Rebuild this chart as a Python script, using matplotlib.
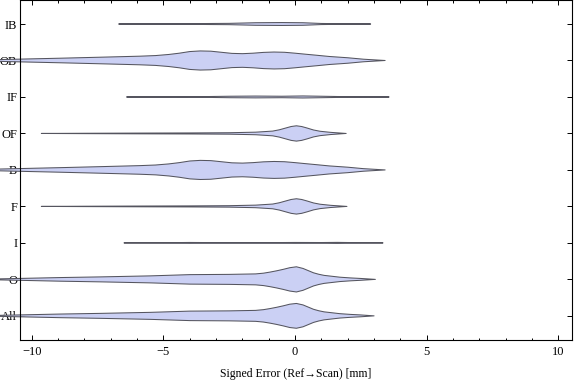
import matplotlib
matplotlib.use("Agg")
import matplotlib.pyplot as plt
from matplotlib.ticker import MultipleLocator
import numpy as np

plt.rcParams['font.family'] = ['Liberation Serif', 'DejaVu Serif']

categories = ["All", "O", "I", "F", "B", "OF", "IF", "OB", "IB"]

# violin profiles: x positions (mm) and half-widths (in category units)
all_x = [-11.5, -10.0, -8.9, -7.4, -5.5, -4.0, -2.5, -1.5, -1.2, -0.95, -0.7, -0.45, -0.2, 0.05, 0.3, 0.5, 0.7, 0.9, 1.1, 1.4, 1.7, 2.1, 2.5, 3.0]
all_h = [0.01, 0.033, 0.05, 0.068, 0.096, 0.13, 0.137, 0.15, 0.17, 0.2, 0.235, 0.275, 0.32, 0.34, 0.3, 0.24, 0.18, 0.14, 0.11, 0.085, 0.06, 0.04, 0.025, 0.0]
o_x = [-11.5, -10.0, -8.9, -7.4, -5.5, -4.0, -2.5, -1.5, -1.2, -0.95, -0.7, -0.45, -0.2, 0.05, 0.3, 0.5, 0.7, 0.9, 1.1, 1.4, 1.7, 2.1, 2.5, 3.05]
o_h = [0.01, 0.033, 0.05, 0.068, 0.096, 0.13, 0.137, 0.15, 0.17, 0.2, 0.235, 0.275, 0.32, 0.345, 0.3, 0.24, 0.18, 0.14, 0.11, 0.085, 0.06, 0.04, 0.025, 0.0]
i_x = [-6.5, -5.0, -4.0, -3.0, -2.0, -1.0, 0.0, 1.0, 1.6, 2.5, 3.34]
i_h = [0.0, 0.006, 0.012, 0.008, 0.01, 0.008, 0.012, 0.01, 0.014, 0.006, 0.0]
f_x = [-9.64, -8.0, -6.0, -4.0, -2.5, -1.5, -0.85, -0.6, -0.35, -0.15, 0.05, 0.25, 0.45, 0.7, 0.95, 1.35, 1.97]
f_h = [0.0, 0.005, 0.01, 0.014, 0.02, 0.035, 0.065, 0.1, 0.15, 0.19, 0.21, 0.19, 0.15, 0.095, 0.06, 0.03, 0.0]
b_x = [-11.5, -10.0, -8.9, -7.4, -5.9, -5.3, -4.8, -4.4, -4.0, -3.6, -3.2, -2.8, -2.4, -2.0, -1.6, -1.2, -0.8, -0.4, 0.0, 0.4, 0.8, 1.3, 2.0, 2.6, 3.42]
b_h = [0.02, 0.045, 0.063, 0.09, 0.118, 0.135, 0.165, 0.2, 0.245, 0.262, 0.255, 0.225, 0.195, 0.187, 0.2, 0.222, 0.232, 0.225, 0.2, 0.172, 0.145, 0.11, 0.075, 0.035, 0.0]
of_x = [-9.64, -8.0, -6.0, -4.0, -2.5, -1.5, -0.85, -0.6, -0.35, -0.15, 0.05, 0.25, 0.45, 0.7, 0.95, 1.35, 1.94]
of_h = [0.0, 0.005, 0.01, 0.014, 0.02, 0.035, 0.065, 0.1, 0.15, 0.19, 0.21, 0.19, 0.15, 0.095, 0.06, 0.03, 0.0]
if_x = [-6.4, -5.0, -3.5, -2.5, -1.5, -0.5, 0.3, 1.0, 2.0, 3.57]
if_h = [0.0, 0.006, 0.01, 0.02, 0.025, 0.02, 0.028, 0.02, 0.008, 0.0]
ob_x = [-11.5, -10.0, -8.9, -7.4, -5.9, -5.3, -4.8, -4.4, -4.0, -3.6, -3.2, -2.8, -2.4, -2.0, -1.6, -1.2, -0.8, -0.4, 0.0, 0.4, 0.8, 1.3, 2.0, 2.6, 3.42]
ob_h = [0.02, 0.045, 0.063, 0.09, 0.118, 0.135, 0.165, 0.2, 0.245, 0.262, 0.255, 0.225, 0.195, 0.187, 0.2, 0.222, 0.232, 0.225, 0.2, 0.172, 0.145, 0.11, 0.075, 0.035, 0.0]
ib_x = [-6.7, -5.0, -4.0, -2.5, -1.5, -0.5, 0.3, 1.0, 2.0, 2.87]
ib_h = [0.0, 0.006, 0.01, 0.018, 0.035, 0.04, 0.035, 0.015, 0.006, 0.0]

profiles = [(all_x, all_h), (o_x, o_h), (i_x, i_h), (f_x, f_h), (b_x, b_h),
            (of_x, of_h), (if_x, if_h), (ob_x, ob_h), (ib_x, ib_h)]

fill_color = "#CBD0F4"
edge_color = "#55555f"

fig = plt.figure(figsize=(5.76, 3.81), dpi=100)
ax = fig.add_axes([20 / 576, (381 - 340.3) / 381, (571.5 - 20) / 576, 340.0 / 381])

for pos, (xs, hs) in enumerate(profiles):
    xs = np.asarray(xs, float)
    hs = np.asarray(hs, float)
    px = np.concatenate([xs, xs[::-1]])
    py = np.concatenate([pos + hs, (pos - hs)[::-1]])
    ax.fill(px, py, facecolor=fill_color, edgecolor=edge_color, linewidth=0.75,
            joinstyle='round', clip_on=False, zorder=2)

ax.set_xlim(-10.45, 10.5)
ax.set_ylim(-0.67, 8.65)
ax.set_yticks(range(len(categories)))
ax.set_yticklabels(categories, fontsize=9)
ax.xaxis.set_major_locator(MultipleLocator(5))
ax.xaxis.set_minor_locator(MultipleLocator(1))
ax.set_xticks([-10, -5, 0, 5, 10])
ax.set_xticklabels(["\u221210", "\u22125", "0", "5", "10"], fontsize=9)
ax.tick_params(axis='x', which='major', direction='in', length=3.3, width=0.7,
               top=True, pad=4)
ax.tick_params(axis='x', which='minor', direction='in', length=1.8, width=0.7, top=True)
ax.tick_params(axis='y', which='major', direction='in', length=3.3, width=0.7,
               right=True, pad=2)
for s in ax.spines.values():
    s.set_linewidth(0.8)
ax.set_xlabel("Signed Error (Ref\u2192Scan) [mm]", fontsize=8.5, labelpad=7)

fig.savefig("out.png", dpi=100)
